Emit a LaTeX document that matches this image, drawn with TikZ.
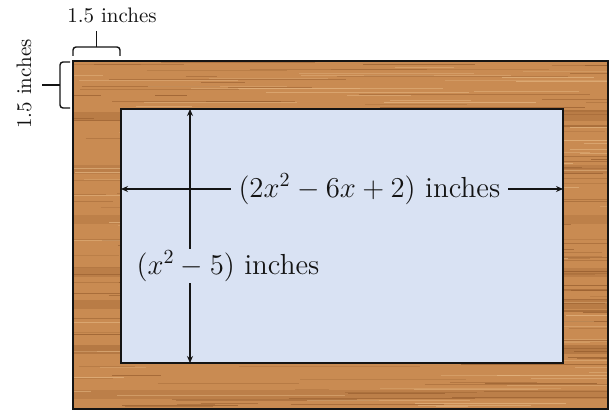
\documentclass[tikz,border=0pt]{standalone}
\usepackage{tikz}
\usetikzlibrary{arrows.meta,calc}
\definecolor{wood}{HTML}{C98B52}
\definecolor{grain}{HTML}{8A5225}
\definecolor{sap}{HTML}{E6B985}
\definecolor{pane}{HTML}{D9E2F3}
\definecolor{ink}{HTML}{141414}

\begin{document}
\begin{tikzpicture}[
  x=0.5pt,y=-0.5pt,
  frame/.style={draw=ink,line width=1.1pt},
  dim/.style={{Stealth[length=3.5pt,width=3pt]}-{Stealth[length=3.5pt,width=3pt]},
              line width=0.6pt,draw=ink},
  brc/.style={draw=ink,line width=0.7pt,rounded corners=1.5pt},
  big/.style={font=\fontsize{14.5}{17}\selectfont,text=ink,fill=pane,
              inner xsep=4pt,inner ysep=1pt},
  small/.style={font=\fontsize{10.5}{12}\selectfont,text=ink,inner sep=1pt},
]
\useasboundingbox (0,0) rectangle (609,411);

% ---------------------------------------------------------------- wood board
\coordinate (fnw) at (73,61);
\coordinate (fse) at (608,409);
\fill[wood] (fnw) rectangle (fse);
\begin{scope}
  \clip (fnw) rectangle (fse);
  \foreach \y/\o in {112/0.25,165/0.2,215/0.18,268/0.22,300/0.25,345/0.3,390/0.2}
    \fill[grain,opacity=\o] (73,\y) rectangle (608,\y+9);
  \pgfmathsetseed{11}
  \foreach \i in {1,...,220}{
    \pgfmathsetmacro{\yy}{61+rnd*348}
    \pgfmathsetmacro{\xa}{40+rnd*560}
    \pgfmathsetmacro{\ln}{30+rnd*220}
    \pgfmathsetmacro{\op}{0.2+rnd*0.4}
    \draw[grain,opacity=\op,line width=0.35pt] (\xa,\yy) -- ++(\ln,0);
  }
  \foreach \i in {1,...,120}{
    \pgfmathsetmacro{\yy}{61+rnd*348}
    \pgfmathsetmacro{\xa}{40+rnd*560}
    \pgfmathsetmacro{\ln}{30+rnd*200}
    \pgfmathsetmacro{\op}{0.3+rnd*0.4}
    \draw[sap,opacity=\op,line width=0.5pt] (\xa,\yy) -- ++(\ln,0);
  }
\end{scope}
\draw[frame] (fnw) rectangle (fse);

% ---------------------------------------------------------------- glass pane
\coordinate (pnw) at (121,109);
\coordinate (pse) at (563,363);
\fill[pane] (pnw) rectangle (pse);
\draw[frame] (pnw) rectangle (pse);

% dimension arrows
\coordinate (hl) at (121,189);
\coordinate (hr) at (563,189);
\coordinate (vt) at (190,109);
\coordinate (vb) at (190,363);

\draw[dim] (vt) -- (vb);
\draw[dim] (hl) -- node[big,pos=0.562] (wlab) {$(2x^2-6x+2)$ inches} (hr);
\node[big] (hlab) at (228,266) {$(x^2-5)$ inches};

% ---------------------------------------------------------------- braces
\draw[brc] (73,56) |- (120,47) -- (120,56);
\draw[brc] (96.5,47) -- (96.5,31);
\node[small] (tlab) at (112,15) {1.5 inches};

\draw[brc] (70,62) -| (60,108) -- (70,108);
\draw[brc] (60,85) -- (42,85);
\node[small,rotate=90] (llab) at (24,84) {1.5 inches};

\end{tikzpicture}
\end{document}
